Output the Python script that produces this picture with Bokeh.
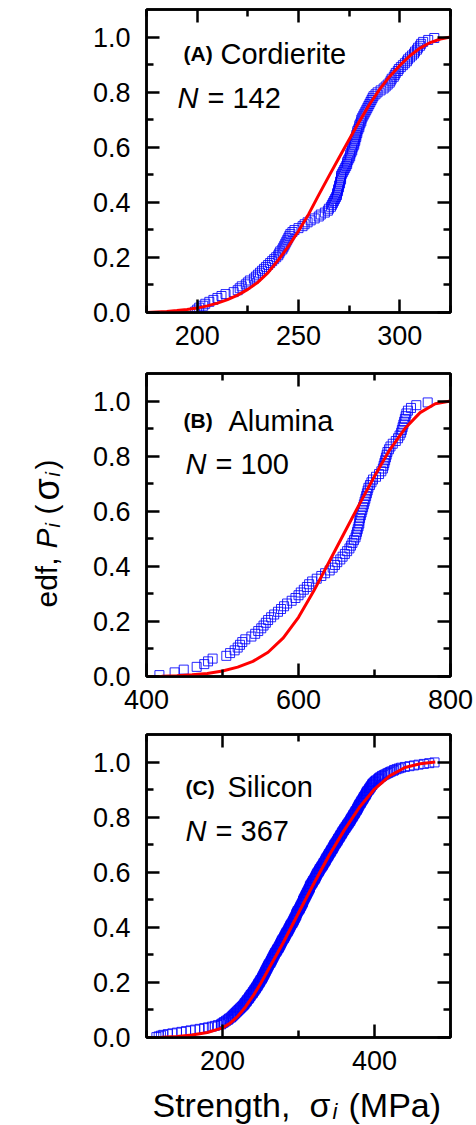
import math
from bokeh.plotting import figure
from bokeh.models import Range1d, FixedTicker, LinearAxis, CustomJSTickFormatter, Label, PrintfTickFormatter
from bokeh.layouts import column, row
from bokeh.embed import file_html
from bokeh.resources import INLINE

FONT = "Liberation Sans"

# ---------------- data ----------------
# (A) Cordierite, N = 142 : sorted strengths (MPa)
cordierite_strength = [
    199, 200, 201, 203, 204, 206, 208, 210, 212, 214,
    218, 220, 221, 222, 224, 225, 226, 228, 229, 230,
    231, 232, 233, 234, 235, 236, 237, 238, 239, 240,
    240.5, 241, 242, 242.5, 243, 243.5, 244, 244.5, 245, 245.5,
    246, 247, 248, 250, 252, 253, 254.5, 256, 258, 260,
    261, 263, 264.5, 265, 266, 266.5, 267, 267.5, 268, 268.5,
    269, 269, 269.5, 269.5, 270, 270, 270.5, 270.5, 271, 271,
    271, 271.5, 272, 272.5, 273, 273.5, 274, 274, 274.5, 275,
    275.5, 275.5, 276, 276.5, 276.5, 277, 277.5, 277.5, 278, 278,
    278.5, 278.5, 279, 279, 279.5, 280, 280, 280.5, 281, 281,
    281.5, 282, 282.5, 283, 283.5, 284, 284.5, 285, 285.5, 286,
    286.5, 287, 288, 289, 290.5, 292, 293, 294, 295, 295.5,
    296, 297, 297.5, 298, 299, 299.5, 300.5, 301.5, 302.5, 303.5,
    304, 305, 306, 307, 307.5, 308.5, 309, 310, 310.5, 311.5,
    314, 317,
]
cordierite_fit_strength = [175, 180, 185, 190, 195, 200, 205, 210, 215, 220, 225, 230, 235, 240, 245, 250,
                           255, 260, 265, 270, 275, 280, 285, 290, 295, 300, 305, 310, 315, 320, 325]
cordierite_fit_prob = [0.0, 0.002, 0.004, 0.007, 0.011, 0.016, 0.024, 0.034, 0.047, 0.063, 0.084, 0.11,
                       0.145, 0.19, 0.24, 0.296, 0.357, 0.427, 0.495, 0.562, 0.628, 0.693, 0.755, 0.81,
                       0.857, 0.897, 0.932, 0.96, 0.98, 0.993, 1.0]

# (B) Alumina, N = 100
alumina_strength = [
    417, 437, 449, 466, 476, 481, 487, 505, 510, 516,
    520, 523, 526, 530, 538, 543, 547, 551, 554, 557,
    560, 564, 568, 573, 577, 581, 585, 591, 596, 600,
    603, 607, 611, 614, 618, 624, 630, 635, 641, 645,
    648, 651, 655, 658, 661, 664, 667, 669, 671, 673,
    675, 676, 677, 678, 679, 680, 680, 681, 682, 683,
    684, 685, 686, 687, 688, 689, 690, 691, 692, 694,
    696, 698, 702, 706, 709, 711, 712, 713, 714, 715,
    716, 717, 719, 721, 724, 728, 731, 733, 735, 736,
    737, 738, 739, 740, 741, 742, 744, 748, 755, 770,
]
alumina_fit_strength = [400, 420, 440, 460, 480, 500, 520, 540, 560, 580, 600, 620, 640, 660, 680, 700,
                        720, 740, 760, 780, 800]
alumina_fit_prob = [0.0, 0.001, 0.003, 0.006, 0.011, 0.02, 0.034, 0.055, 0.088, 0.14, 0.215, 0.31, 0.415,
                    0.52, 0.625, 0.727, 0.823, 0.9, 0.958, 0.99, 1.0]

# (C) Silicon, N = 367
silicon_strength = [
    113, 116, 119, 122, 128, 134, 140, 146, 152, 158, 164, 170, 176, 181, 186, 190, 194, 198,
    199, 201, 202, 204, 205, 207, 208, 209, 211, 212, 213, 214, 215, 216, 217, 218, 219, 220,
    221, 222, 223, 224, 225, 226, 227, 228, 229, 229, 230, 231, 232, 232, 233, 234, 235, 235, 236,
    237, 237, 238, 239, 240, 240, 241, 242, 242, 243, 244, 244, 245, 246, 246, 247, 247, 248,
    249, 249, 250, 250, 251, 252, 252, 253, 253, 254, 254, 255, 255, 256, 256, 257, 257, 258, 258,
    259, 259, 260, 260, 261, 261, 262, 263, 263, 264, 264, 265, 265, 266, 266, 267, 267, 268,
    268, 269, 269, 270, 271, 271, 272, 272, 273, 274, 274, 275, 275, 276, 276, 277, 277, 278,
    278, 279, 279, 280, 281, 281, 282, 282, 283, 283, 284, 284, 285, 286, 286, 287, 287, 288, 288,
    289, 289, 290, 290, 291, 292, 292, 293, 293, 294, 294, 295, 295, 296, 296, 297, 297, 297,
    298, 298, 299, 299, 300, 301, 301, 302, 302, 303, 303, 304, 304, 305, 305, 306, 306, 306,
    307, 307, 308, 308, 309, 309, 310, 310, 311, 311, 312, 312, 313, 313, 314, 314, 315, 315, 315,
    316, 316, 317, 318, 318, 319, 319, 320, 321, 321, 322, 322, 323, 323, 324, 324, 325, 325,
    326, 327, 327, 328, 328, 329, 330, 330, 331, 332, 332, 333, 333, 334, 335, 335, 336, 336,
    337, 337, 338, 339, 339, 340, 340, 341, 342, 342, 343, 343, 344, 345, 345, 346, 346, 347, 347,
    348, 349, 349, 350, 351, 351, 352, 352, 353, 354, 354, 355, 355, 356, 357, 357, 358, 358,
    359, 360, 360, 361, 362, 362, 363, 364, 364, 365, 366, 366, 367, 368, 368, 369, 369, 370,
    371, 371, 372, 372, 373, 374, 374, 375, 375, 376, 377, 377, 378, 378, 379, 379, 380, 380, 381,
    382, 382, 383, 383, 384, 385, 385, 386, 386, 387, 388, 388, 389, 389, 390, 390, 391, 392,
    393, 393, 394, 395, 395, 396, 397, 397, 398, 399, 400,
    401, 402, 404, 405, 406, 407, 409, 410,
    412, 414, 416, 418, 420, 422, 425,
    426, 429, 432, 435,
    440, 446, 452,
    458, 465, 472, 479,
]
silicon_fit_strength = [100, 120, 140, 160, 180, 200, 210, 220, 230, 240, 250, 260, 280, 300, 320, 340,
                        360, 380, 400, 420, 440, 460, 480]
silicon_fit_prob = [0.0, 0.001, 0.004, 0.009, 0.018, 0.035, 0.052, 0.077, 0.11, 0.15, 0.195, 0.245,
                    0.345, 0.452, 0.558, 0.66, 0.752, 0.835, 0.902, 0.95, 0.98, 0.994, 1.0]

y_major = [0.0, 0.2, 0.4, 0.6, 0.8, 1.0]
y_minor = [0.1, 0.3, 0.5, 0.7, 0.9]

YLAB_W = 70
LEFT_BORDER = 146 - YLAB_W
RIGHT_BORDER = 26
SHIFT = 0.036  # label baseline correction (about 10 px in the 0-1.1 y range)


def edf_positions(strengths):
    # empirical distribution function plotting position P_i = (i - 0.5) / N
    n = len(strengths)
    return [(i - 0.5) / n for i in range(1, n + 1)]


def style_axis(ax, labels=True):
    ax.axis_line_width = 2.5
    ax.axis_line_color = "black"
    ax.major_tick_in = 13
    ax.major_tick_out = 0
    ax.minor_tick_in = 7
    ax.minor_tick_out = 0
    ax.major_tick_line_width = 2.5
    ax.minor_tick_line_width = 2.5
    ax.major_tick_line_color = "black"
    ax.minor_tick_line_color = "black"
    ax.major_label_text_font = FONT
    ax.major_label_text_font_size = "27px"
    ax.major_label_text_color = "black"
    if not labels:
        ax.formatter = CustomJSTickFormatter(code="return ''")
        ax.major_label_standoff = 0


def make_panel(xr, xmaj, xmin, top, bottom, strengths, fit_x, fit_y):
    p = figure(x_range=Range1d(*xr), y_range=Range1d(0, 1.1),
               frame_width=304, frame_height=303,
               min_border_left=LEFT_BORDER, min_border_right=RIGHT_BORDER,
               min_border_top=top, min_border_bottom=bottom,
               output_backend="svg", toolbar_location=None)
    p.xgrid.visible = False
    p.ygrid.visible = False
    p.outline_line_color = "black"
    p.outline_line_width = 2.5
    p.background_fill_color = "white"
    p.border_fill_color = "white"

    p.xaxis.ticker = FixedTicker(ticks=xmaj, minor_ticks=xmin)
    p.yaxis.ticker = FixedTicker(ticks=y_major, minor_ticks=y_minor)
    p.yaxis.formatter = PrintfTickFormatter(format="%.1f")
    style_axis(p.xaxis[0])
    style_axis(p.yaxis[0])
    p.xaxis.major_label_standoff = 13
    p.yaxis.major_label_standoff = 16

    top_ax = LinearAxis(ticker=FixedTicker(ticks=xmaj, minor_ticks=xmin))
    style_axis(top_ax, labels=False)
    p.add_layout(top_ax, "above")
    right_ax = LinearAxis(ticker=FixedTicker(ticks=y_major, minor_ticks=y_minor))
    style_axis(right_ax, labels=False)
    p.add_layout(right_ax, "right")

    p.scatter(strengths, edf_positions(strengths), marker="square", size=9,
              fill_color=None, line_color="#0000ff", line_width=1, line_alpha=0.85)
    p.line(fit_x, fit_y, line_color="#ff0000", line_width=3)
    return p


def text_fig(w, h, left=0, right=0):
    f = figure(x_range=Range1d(0, w), y_range=Range1d(0, h), frame_width=w, frame_height=h,
               min_border=0, min_border_left=left, min_border_right=right,
               min_border_top=0, min_border_bottom=0,
               x_axis_location=None, y_axis_location=None,
               output_backend="svg", toolbar_location=None)
    f.xgrid.visible = False
    f.ygrid.visible = False
    f.outline_line_color = None
    f.background_fill_color = "white"
    f.border_fill_color = "white"
    return f


def add_text(p, x, y, text, size, style="normal", angle=0.0):
    p.add_layout(Label(x=x, y=y, text=text, text_font=FONT, text_font_size=f"{size}px",
                       text_font_style=style, text_baseline="alphabetic", text_align="left",
                       angle=angle, text_color="black"))


pA = make_panel((175, 325), [200, 250, 300], [175, 225, 275, 325], 9, 52,
                cordierite_strength, cordierite_fit_strength, cordierite_fit_prob)
pB = make_panel((400, 800), [400, 600, 800], [500, 700], 9, 49,
                alumina_strength, alumina_fit_strength, alumina_fit_prob)
pC = make_panel((100, 500), [200, 400], [100, 300, 500], 9, 44,
                silicon_strength, silicon_fit_strength, silicon_fit_prob)

# panel annotations
add_text(pA, 193.3, 0.904 + SHIFT, "(A)", 21, "bold")
add_text(pA, 211.5, 0.904 + SHIFT, "Cordierite", 29)
add_text(pA, 190.3, 0.744 + SHIFT, "N", 29, "italic")
add_text(pA, 205.1, 0.744 + SHIFT, "= 142", 29)

add_text(pB, 448.7, 0.893 + SHIFT, "(B)", 21, "bold")
add_text(pB, 507.9, 0.893 + SHIFT, "Alumina", 29)
add_text(pB, 451.3, 0.736 + SHIFT, "N", 29, "italic")
add_text(pB, 490.8, 0.736 + SHIFT, "= 100", 29)

add_text(pC, 151.3, 0.872 + SHIFT, "(C)", 21, "bold")
add_text(pC, 206.6, 0.872 + SHIFT, "Silicon", 29)
add_text(pC, 151.3, 0.713 + SHIFT, "N", 29, "italic")
add_text(pC, 190.8, 0.713 + SHIFT, "= 367", 29)

# y axis title (rotated) in a narrow strip at the left
ylab = text_fig(YLAB_W, 1125)
rot = math.pi / 2
add_text(ylab, 46, 518, "edf,", 30, angle=rot)
add_text(ylab, 46, 577, "P", 30, "italic", angle=rot)
add_text(ylab, 52, 598, "i", 20, "italic", angle=rot)
add_text(ylab, 46, 611, "(", 30, angle=rot)
add_text(ylab, 46, 625, "σ", 36, angle=rot)
add_text(ylab, 52, 649, "i", 20, "italic", angle=rot)
add_text(ylab, 46, 656, ")", 30, angle=rot)

# x axis title in a strip below panel C (same borders as the panels)
xlab = text_fig(304, 44, left=LEFT_BORDER, right=RIGHT_BORDER)
add_text(xlab, 6, 21, "Strength,", 34)
add_text(xlab, 163, 21, "σ", 34)
add_text(xlab, 186, 14, "i", 22, "italic")
add_text(xlab, 202, 21, "(MPa)", 34)

layout = row(ylab, column(pA, pB, pC, xlab, spacing=0), spacing=0)
open("out.html", "w").write(file_html(layout, INLINE))
